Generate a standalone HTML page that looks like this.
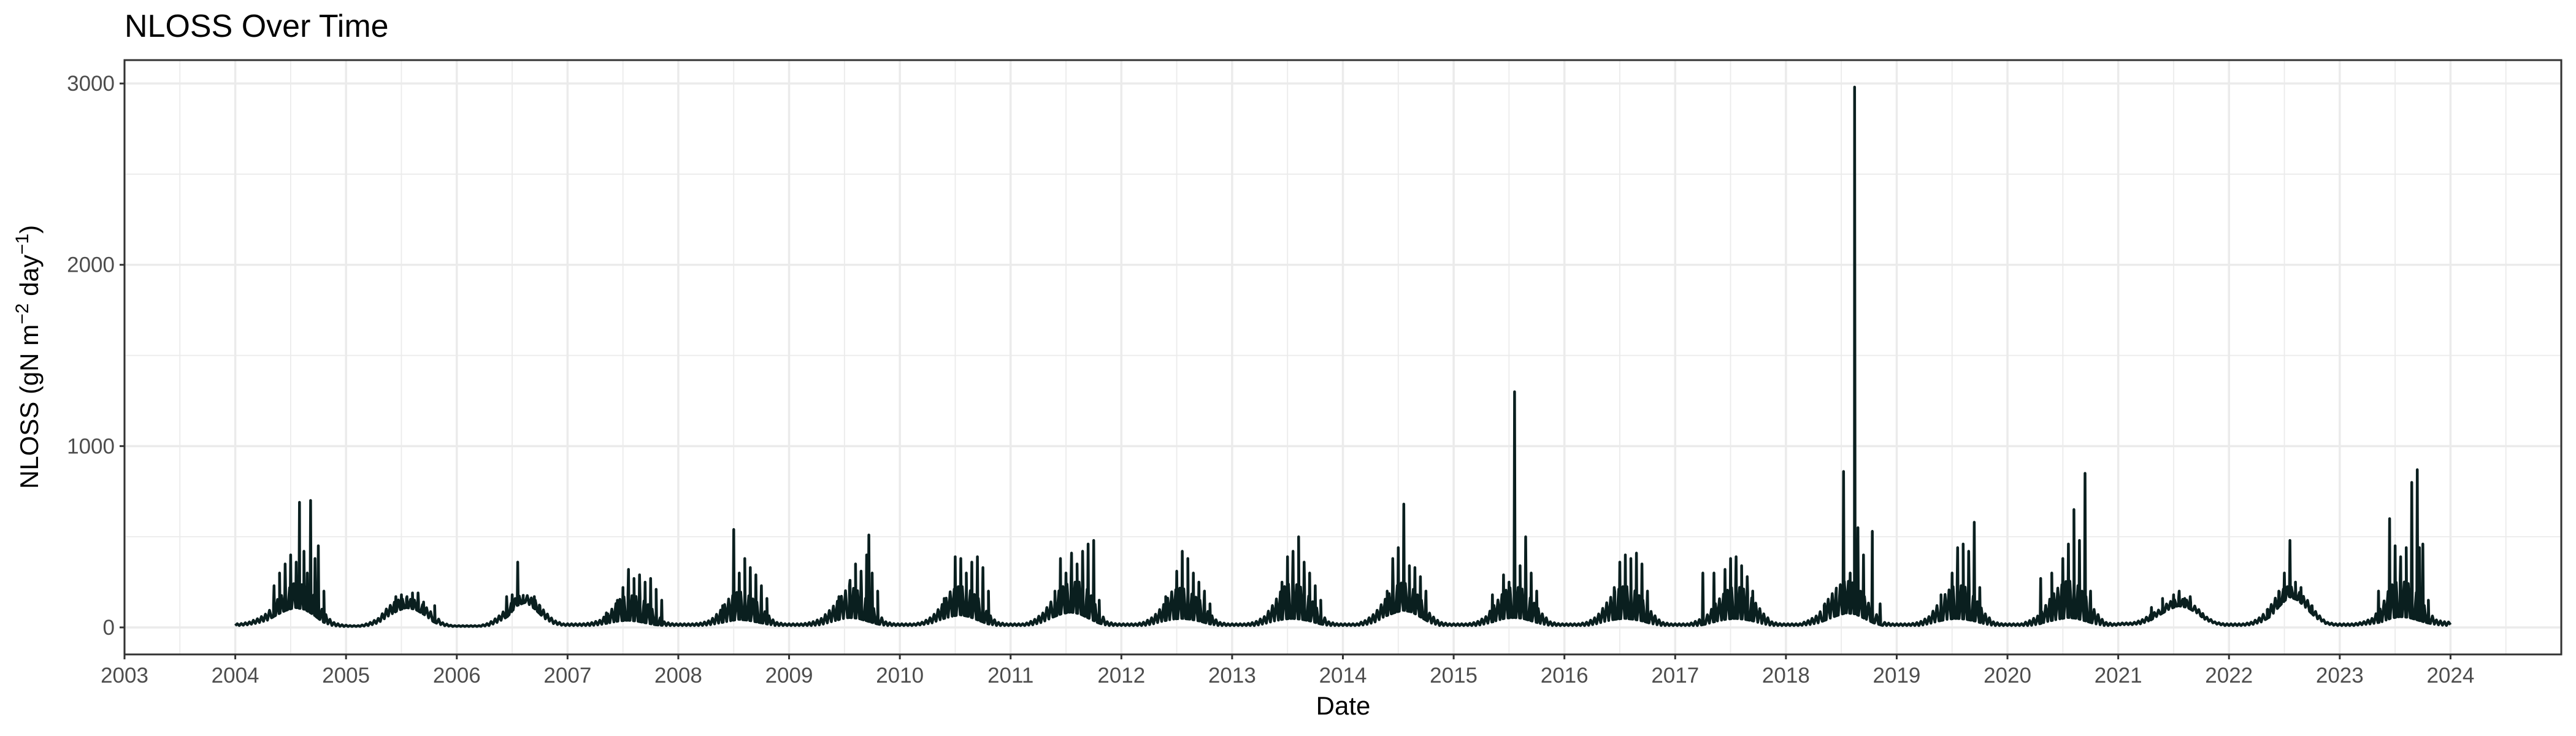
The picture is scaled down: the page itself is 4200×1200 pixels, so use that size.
<!DOCTYPE html>
<html><head><meta charset="utf-8"><style>
html,body{margin:0;padding:0;background:#fff}
svg{display:block}
text{font-family:"Liberation Sans",Arial,sans-serif}
</style></head><body>
<svg id="chart" width="4200" height="1200" xmlns="http://www.w3.org/2000/svg">
<text x="203" y="60" font-size="52" fill="#000">NLOSS Over Time</text>
<g id="grid"></g>
<g id="series"></g>
<rect x="203" y="98" width="3973" height="969" fill="none" stroke="#333" stroke-width="3"/>
<g id="axes"></g>
<text x="2190" y="1165" font-size="42" text-anchor="middle" fill="#000">Date</text>
<text transform="translate(62,582) rotate(-90)" font-size="42" text-anchor="middle" fill="#000">NLOSS (gN m<tspan font-size="30" dy="-16">−2</tspan><tspan dy="16"> day</tspan><tspan font-size="30" dy="-16">−1</tspan><tspan dy="16">)</tspan></text>
</svg>
<script>
const years = [2004,2005,2006,2007,2008,2009,2010,2011,2012,2013,2014,2015,2016,2017,2018,2019,2020,2021,2022,2023];
const baseline = [
[10,15,25,40,70,95,110,100,70,30,10,5],
[5,5,10,25,60,90,110,100,70,30,10,5],
[5,5,5,10,30,60,120,140,100,50,20,10],
[10,10,10,15,25,35,40,35,25,15,10,10],
[10,10,10,15,25,35,45,40,30,20,10,10],
[10,10,10,15,30,45,55,50,35,20,10,10],
[10,10,15,25,45,60,70,60,40,20,10,10],
[10,10,15,30,55,75,85,75,50,25,10,10],
[10,10,10,20,35,45,50,45,35,20,10,10],
[10,10,10,20,35,45,50,45,35,20,10,10],
[10,10,15,30,60,80,95,85,55,25,10,10],
[10,10,10,20,35,50,55,50,35,20,10,10],
[10,10,10,20,35,45,50,45,35,20,10,10],
[10,10,10,20,35,45,50,45,35,20,10,10],
[10,10,15,25,45,65,80,75,50,25,10,10],
[10,10,10,20,35,45,50,45,35,20,10,10],
[10,10,10,20,35,45,55,50,35,20,10,10],
[15,15,20,40,70,100,120,110,80,40,20,10],
[10,10,15,30,60,120,170,150,100,50,20,10],
[10,10,15,20,30,50,60,55,40,25,15,10]];
const envelope = [
[20,30,50,80,150,200,250,230,180,90,30,15],
[10,10,25,50,110,150,160,150,120,70,25,10],
[10,10,10,25,60,110,170,180,150,90,40,20],
[20,20,25,40,80,150,180,170,140,80,30,20],
[20,20,25,40,90,160,200,180,140,80,30,20],
[20,20,30,50,100,160,230,200,150,80,30,20],
[20,20,30,60,120,200,230,210,160,80,30,20],
[20,20,40,80,150,220,250,250,200,90,30,20],
[20,20,30,60,120,200,220,190,150,80,30,20],
[20,20,30,60,130,220,250,220,160,80,30,20],
[20,20,40,80,150,220,250,220,150,70,30,20],
[20,20,30,60,130,200,230,210,150,80,30,20],
[20,20,30,60,130,200,230,210,150,80,30,20],
[20,20,40,70,140,200,230,210,150,80,30,20],
[20,20,40,70,150,220,260,240,170,90,30,20],
[20,20,30,60,130,200,240,220,160,80,30,20],
[20,20,40,70,150,220,260,240,170,90,30,20],
[25,25,40,70,100,140,160,150,110,60,30,20],
[20,20,30,60,120,200,230,200,150,80,30,20],
[20,20,30,50,110,230,260,240,180,90,40,30]];
const spikeDates = [
2004.35,2004.40,2004.45,2004.50,2004.55,2004.58,2004.62,2004.65,2004.68,2004.72,2004.75,2004.80,
2005.45,2005.50,2005.55,2005.60,2005.65,2005.70,2005.80,
2006.45,2006.50,2006.55,2006.60,2006.70,2006.75,
2007.35,2007.45,2007.50,2007.55,2007.60,2007.65,2007.70,2007.75,2007.80,2007.85,
2008.40,2008.50,2008.55,2008.60,2008.65,2008.70,2008.75,2008.80,
2009.45,2009.55,2009.60,2009.65,2009.70,2009.72,2009.75,2009.80,
2010.40,2010.50,2010.55,2010.60,2010.65,2010.70,2010.75,2010.80,
2011.40,2011.45,2011.50,2011.55,2011.60,2011.65,2011.70,2011.75,2011.80,
2012.40,2012.50,2012.55,2012.60,2012.65,2012.70,2012.75,2012.80,
2013.45,2013.50,2013.55,2013.60,2013.65,2013.70,2013.75,2013.80,
2014.40,2014.45,2014.50,2014.55,2014.60,2014.65,2014.70,2014.75,
2015.35,2015.45,2015.50,2015.55,2015.60,2015.65,2015.70,2015.75,
2016.45,2016.50,2016.55,2016.60,2016.65,2016.70,2016.75,
2017.25,2017.35,2017.45,2017.50,2017.55,2017.60,2017.65,2017.70,
2018.35,2018.45,2018.52,2018.58,2018.62,2018.65,2018.70,2018.78,2018.85,
2019.40,2019.50,2019.55,2019.60,2019.65,2019.70,2019.75,
2020.30,2020.40,2020.50,2020.55,2020.60,2020.65,2020.70,2020.75,
2021.30,2021.40,2021.50,2021.55,2021.60,2021.65,2021.75,
2022.35,2022.45,2022.50,2022.55,2022.60,2022.65,2022.75,
2023.35,2023.45,2023.50,2023.55,2023.60,2023.65,2023.70,2023.72,2023.75,2023.80];
const spikeValues = [
230,300,350,400,360,690,420,300,700,380,450,200,
170,180,170,190,190,140,120,
170,180,360,150,170,120,
80,150,220,320,270,290,250,270,210,150,
120,540,300,380,330,290,230,160,
170,260,350,310,400,510,300,200,
160,390,380,300,360,390,330,200,
200,380,300,410,350,420,460,480,150,
170,310,420,380,300,250,200,130,
250,390,420,500,360,300,230,150,
200,380,440,680,340,330,280,200,
180,290,250,1300,340,500,300,200,
220,360,400,380,410,350,200,
300,300,320,380,390,340,280,200,
130,180,860,300,2980,550,400,530,130,
180,300,440,460,420,580,220,
270,300,380,460,650,480,850,200,
110,160,180,200,160,170,70,
100,200,300,480,250,220,120,
200,600,450,390,440,800,870,440,460,150];
const yTicks = [0,1000,2000,3000];
const xTickLabels = ["2003","2004","2005","2006","2007","2008","2009","2010","2011","2012","2013","2014","2015","2016","2017","2018","2019","2020","2021","2022","2023","2024"];

const NS="http://www.w3.org/2000/svg";
const PL=203,PR=4176,PT=98,PB=1067;
const X0=2003,X1=2025,Y0=-149,Y1=3129;
function xs(t){return PL+(t-X0)/(X1-X0)*(PR-PL);}
function ys(v){return PB-(v-Y0)/(Y1-Y0)*(PB-PT);}
function mk(tag,attrs,parent){const e=document.createElementNS(NS,tag);for(const k in attrs)e.setAttribute(k,attrs[k]);parent.appendChild(e);return e;}
const grid=document.getElementById('grid'),axes=document.getElementById('axes'),series=document.getElementById('series');
for(let v=-500;v<=3500;v+=500){if(v<Y0||v>Y1)continue;const major=v%1000===0;
 const l=mk('line',{x1:PL,x2:PR,y1:ys(v),y2:ys(v),stroke:'#ebebeb','stroke-width':major?3.5:1.8},grid);
 
 }
for(let t=2003;t<=2025;t+=0.5){const major=Number.isInteger(t);
 const l=mk('line',{x1:xs(t),x2:xs(t),y1:PT,y2:PB,stroke:'#ebebeb','stroke-width':major?3.5:1.8},grid);
 
 }
let pts=[],env=[];
years.forEach((y,i)=>{baseline[i].forEach((v,m)=>{pts.push([y+(m+0.5)/12,v]);env.push([y+(m+0.5)/12,envelope[i][m]]);});});
pts.unshift([2004.0,10]);pts.push([2024.0,15]);
env.unshift([2004.0,20]);env.push([2024.0,30]);
function interp(arr,t){for(let i=0;i<arr.length-1;i++){if(t>=arr[i][0]&&t<=arr[i+1][0]){const f=(t-arr[i][0])/(arr[i+1][0]-arr[i][0]);return arr[i][1]+f*(arr[i+1][1]-arr[i][1]);}}return arr[arr.length-1][1];}
let all=[];
let k=0;
for(let t=2004.0;t<=2024.0;t+=1/55){all.push([t,(k%2)?interp(env,t):interp(pts,t)]);k++;}
spikeDates.forEach((t,i)=>{all.push([t-0.005,interp(pts,t-0.005)],[t,spikeValues[i]],[t+0.005,interp(pts,t+0.005)]);});
all.sort((a,b)=>a[0]-b[0]);
const d=all.map((p,i)=>(i?'L':'M')+xs(p[0]).toFixed(1)+','+ys(p[1]).toFixed(1)).join('');
const path=mk('path',{d:d,fill:'none',stroke:'#0a1f1f','stroke-width':4.5,'stroke-linejoin':'round'},series);


yTicks.forEach(v=>{const tk=mk('line',{x1:PL-8,x2:PL,y1:ys(v),y2:ys(v),stroke:'#333','stroke-width':3},axes);
 
 
 const tx=mk('text',{x:PL-16,y:ys(v)+12,'font-size':35,'text-anchor':'end',fill:'#4d4d4d'},axes);tx.textContent=String(v);
 
 });
xTickLabels.forEach((s,i)=>{const t=X0+i;const tk=mk('line',{x1:xs(t),x2:xs(t),y1:PB,y2:PB+8,stroke:'#333','stroke-width':3},axes);
 
 
 const tx=mk('text',{x:xs(t),y:PB+46,'font-size':35,'text-anchor':'middle',fill:'#4d4d4d'},axes);tx.textContent=s;
 
 });
</script>
</body></html>
